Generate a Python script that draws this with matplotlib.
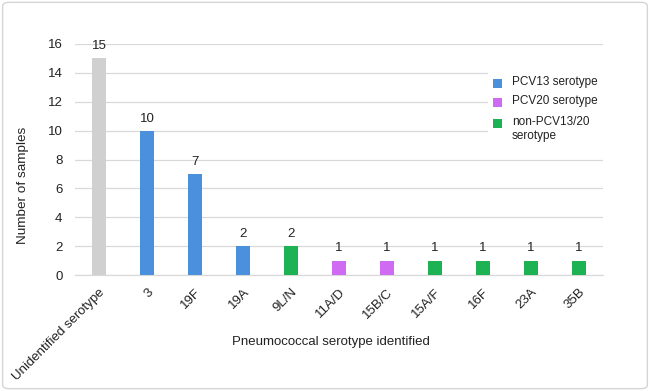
import matplotlib.pyplot as plt
from matplotlib.patches import Rectangle, FancyBboxPatch

# Serotype counts
serotypes = ["Unidentified serotype", "3", "19F", "19A", "9L/N", "11A/D",
             "15B/C", "15A/F", "16F", "23A", "35B"]
counts = [15, 10, 7, 2, 2, 1, 1, 1, 1, 1, 1]
groups = ["none", "PCV13", "PCV13", "PCV13", "other", "PCV20",
          "PCV20", "other", "other", "other", "other"]

colors = {"none": "#D0D0D0", "PCV13": "#4A90DC",
          "PCV20": "#CF6AF2", "other": "#1DB253"}
legend_labels = [("PCV13", "PCV13 serotype"),
                 ("PCV20", "PCV20 serotype"),
                 ("other", "non-PCV13/20\nserotype")]

plt.rcParams['font.family'] = ['Liberation Sans', 'DejaVu Sans']

W, H = 650, 391
fig = plt.figure(figsize=(W / 100, H / 100), dpi=100)
# plot area in pixels: x 75..603, y 44 (value 16) .. 275 (value 0)
ax = fig.add_axes([75 / W, 1 - 275 / H, 528 / W, 231 / H])

x = range(len(serotypes))
bars = ax.bar(x, counts, width=0.30, color=[colors[g] for g in groups], zorder=3)
for b, c in zip(bars, counts):
    ax.text(b.get_x() + b.get_width() / 2, c + 0.42, str(c),
            ha="center", va="bottom", fontsize=9.5, color="#222222", clip_on=False)

ax.set_xlim(-0.5, len(serotypes) - 0.5)
ax.set_ylim(0, 16)
ax.set_yticks(range(0, 17, 2))
ax.yaxis.grid(True, color="#D9D9D9", linewidth=0.9, zorder=0)
ax.tick_params(axis="y", length=0, labelsize=9.5, pad=9, colors="#222222")
ax.tick_params(axis="x", length=0, labelsize=9.5, colors="#222222", pad=8)
ax.set_xticks(list(x))
ax.set_xticklabels(serotypes, rotation=45, ha="right", va="top",
                   rotation_mode="anchor")
for s in ["top", "right", "left"]:
    ax.spines[s].set_visible(False)
ax.spines["bottom"].set_color("#D9D9D9")
ax.spines["bottom"].set_linewidth(0.9)

ax.set_ylabel("Number of samples", fontsize=9.7, color="#222222")
ax.yaxis.set_label_coords(-0.087, 0.39)
fig.text(331 / W, 1 - 342 / H, "Pneumococcal serotype identified",
         ha="center", va="center", fontsize=9.5, color="#222222")

# legend sits on a white patch over the right end of the gridlines
def px(xp, yp):
    return xp / W, 1 - yp / H

fig.patches.append(Rectangle(px(488, 146), 117 / W, 80 / H,
                             transform=fig.transFigure, facecolor="white",
                             edgecolor="none", zorder=5))
row_y = [83, 102, 123]
for (key, label), yc in zip(legend_labels, row_y):
    fig.patches.append(Rectangle(px(493, yc + 4.5), 9 / W, 9 / H,
                                 transform=fig.transFigure,
                                 facecolor=colors[key], edgecolor="none", zorder=6))
    fig.text(*px(512, yc - 7), label, ha="left", va="top", fontsize=8.5,
             color="#222222", linespacing=1.25, zorder=6)

# light rounded border around the whole picture
fig.patches.append(FancyBboxPatch((0.004, 0.006), 0.992, 0.988,
                                  boxstyle="round,pad=0,rounding_size=0.01",
                                  transform=fig.transFigure, fill=False,
                                  edgecolor="#D5D5D5", linewidth=1.0))

fig.savefig("out.png", dpi=100)
